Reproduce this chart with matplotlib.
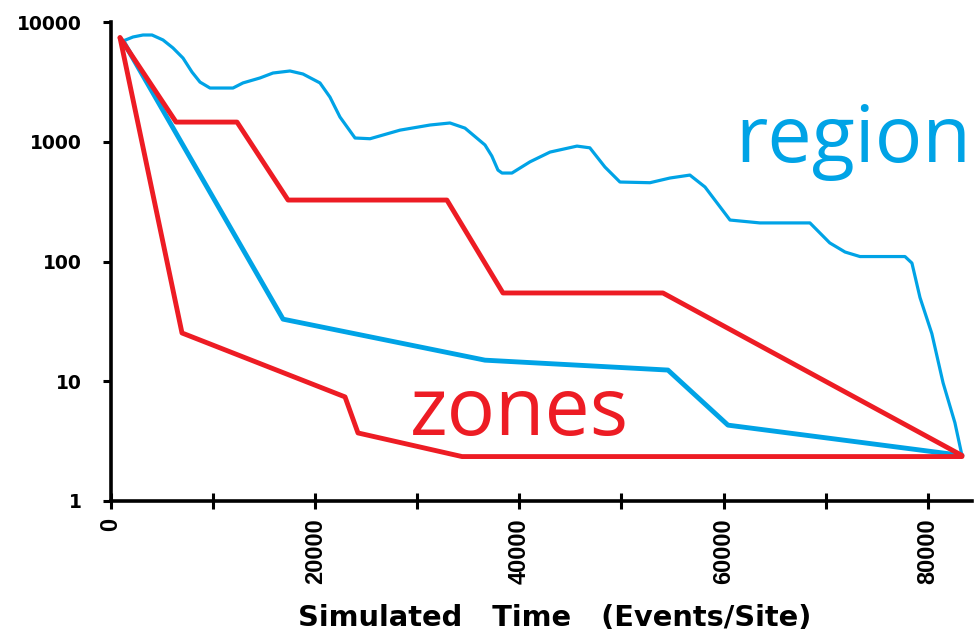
import matplotlib
matplotlib.use("Agg")
import matplotlib.pyplot as plt
from matplotlib.ticker import FixedLocator, NullLocator

# region curve (top, wiggly)
region_t = [1175, 2154, 3133, 4015, 5091, 6071, 7050, 7931, 8714, 9694, 11946,
            12925, 14590, 15862, 17527, 18800, 20465, 21444, 22423, 23900, 25370,
            28300, 31250, 33200, 34670, 36630, 37300, 37900, 38300, 39270, 41040,
            43000, 45640, 46900, 48380, 49850, 52790, 54750, 56700, 58180, 60630,
            63560, 68460, 70400, 71900, 73360, 77770, 78450, 79240, 80400, 81500,
            82660, 83350]
region_n = [6940, 7500, 7790, 7790, 7080, 6070, 5000, 3820, 3150, 2810, 2810,
            3100, 3410, 3750, 3900, 3680, 3100, 2360, 1610, 1075, 1060,
            1250, 1380, 1435, 1300, 940, 760, 580, 548, 548, 680,
            820, 920, 890, 615, 461, 455, 498, 527, 419, 222,
            210, 210, 143, 120, 110, 110, 97, 50, 25, 9.7,
            4.5, 2.4]

# region, second curve (straight segments)
region2_t = [1175, 16850, 36630, 54550, 60430, 83350]
region2_n = [6940, 33, 15, 12.4, 4.3, 2.4]

# zones, upper curve
zones_t = [880, 6370, 12340, 17340, 32900, 38390, 54060, 83350]
zones_n = [7400, 1460, 1460, 326, 326, 54.6, 54.6, 2.4]

# zones, lower curve
zones2_t = [880, 6950, 22920, 24190, 34380, 83350]
zones2_n = [7400, 25.3, 7.4, 3.7, 2.35, 2.35]

ytick_vals = [1, 10, 100, 1000, 10000]
ytick_text = ["1", "10", "100", "1000", "10000"]
xtick_vals = list(range(0, 90000, 10000))
xtick_text = ["0", "", "20000", "", "40000", "", "60000", "", "80000"]

blue = "#00A3E6"
red = "#ED1C24"

fig = plt.figure(figsize=(9.8, 6.4), dpi=100)
ax = fig.add_axes([0.1133, 0.2172, 0.8786, 0.7484])

kw = dict(solid_joinstyle="round", solid_capstyle="round")
ax.plot(region_t, region_n, color=blue, lw=2.3, **kw)
ax.plot(region2_t, region2_n, color=blue, lw=3.5, **kw)
ax.plot(zones_t, zones_n, color=red, lw=3.5, **kw)
ax.plot(zones2_t, zones2_n, color=red, lw=3.5, **kw)

ax.set_yscale("log")
ax.set_ylim(1, 10000)
ax.set_xlim(0, 84340)

for s in ["top", "right"]:
    ax.spines[s].set_visible(False)
for s in ["left", "bottom"]:
    ax.spines[s].set_linewidth(2.6)

ax.yaxis.set_major_locator(FixedLocator(ytick_vals))
ax.yaxis.set_minor_locator(NullLocator())
ax.set_yticklabels(ytick_text)
ax.tick_params(axis="y", direction="out", length=6, width=2.2, pad=15)
for lab in ax.get_yticklabels():
    lab.set_fontfamily("DejaVu Sans")
    lab.set_fontweight("bold")
    lab.set_fontsize(13.5)

ax.xaxis.set_major_locator(FixedLocator(xtick_vals))
ax.set_xticklabels(xtick_text)
ax.tick_params(axis="x", direction="inout", length=11, width=2.2, pad=7)
for lab in ax.get_xticklabels():
    lab.set_fontfamily("Liberation Sans")
    lab.set_fontweight("bold")
    lab.set_fontsize(17)
    lab.set_rotation(90)

ax.set_xlabel("Simulated   Time   (Events/Site)", fontfamily="DejaVu Sans",
              fontweight="bold", fontsize=20.8)
ax.xaxis.set_label_coords(0.515, -0.215)

ax.text(61100, 680, "region", color=blue, fontsize=57, fontfamily="Open Sans",
        va="baseline")
ax.text(29250, 3.56, "zones", color=red, fontsize=58, fontfamily="Open Sans",
        va="baseline")

fig.savefig("out.png", dpi=100)
